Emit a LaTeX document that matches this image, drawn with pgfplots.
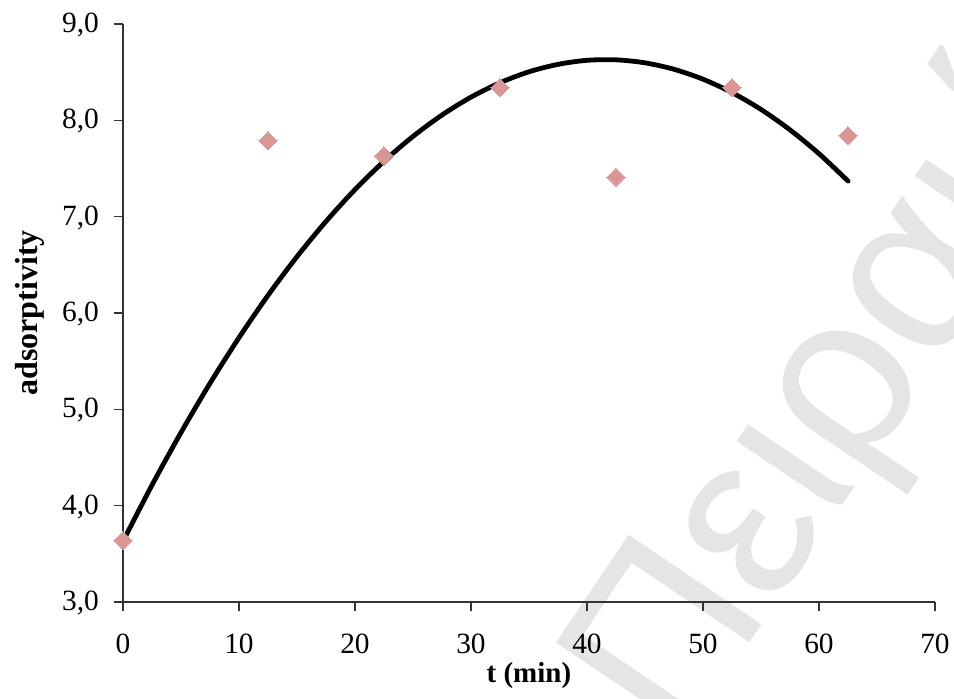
\documentclass[border=0pt]{standalone}
\usepackage{fontspec}
\setmainfont{Liberation Serif}
\newfontfamily\wmfont{Liberation Sans}
\usepackage{pgfplots}
\pgfplotsset{compat=1.18}
\definecolor{markcol}{RGB}{217,150,148}
\begin{document}
\begin{tikzpicture}
\useasboundingbox (0,0) rectangle (477pt,349.5pt);
\begin{scope}
\clip (0,0) rectangle (477pt,349.5pt);
\node[rotate=56, anchor=base west, inner sep=0pt, text=black!10, font=\wmfont\fontsize{116.5}{120}\selectfont] at (339pt,-25pt) {Πειραιά};
\end{scope}
\begin{axis}[
  at={(61.5pt,48.5pt)}, anchor=south west,
  scale only axis, width=406pt, height=289pt,
  xmin=0, xmax=70, ymin=3, ymax=9,
  axis lines*=left, axis line style={-, black!80, line width=0.6pt},
  xtick={0,10,...,70}, ytick={3,4,...,9},
  tick align=outside, major tick length=4.5pt,
  tick style={black!80, line width=0.6pt},
  minor tick num=0,
  /pgf/number format/assume math mode=true,
  y tick label style={/pgf/number format/.cd, fixed, fixed zerofill, precision=1, use comma, /tikz/.cd, xshift=-4pt, yshift=-0.5pt},
  x tick label style={yshift=-8pt},
  ticklabel style={font=\fontsize{14.7}{18}\selectfont},
  xlabel={\textbf{t (min)}}, ylabel={\textbf{adsorptivity}},
  xlabel style={font=\fontsize{14.5}{17}\selectfont, at={(rel axis cs:0.5,0)}, anchor=center, yshift=-36.75pt},
  ylabel style={font=\fontsize{16}{19}\selectfont, at={(rel axis cs:0,0.5)}, anchor=center, yshift=46.5pt},
  clip=false,
]
\addplot[only marks, mark=square*, mark size=3.2pt, mark options={rotate=45, fill=markcol, draw=markcol, line width=0pt}] coordinates {
(0,3.64) (12.5,7.79) (22.5,7.63) (32.5,8.34) (42.5,7.41) (52.5,8.34) (62.5,7.84)
};
\addplot[black, line width=2.4pt, line cap=round, line join=round, smooth, no marks] coordinates {
(0,3.630) (2.5,4.213) (5,4.759) (7.5,5.270) (10,5.744) (12.5,6.183) (15,6.585)
(17.5,6.951) (20,7.281) (22.5,7.575) (25,7.833) (27.5,8.055) (30,8.241)
(32.5,8.390) (35,8.504) (37.5,8.581) (40,8.623) (42.5,8.628) (45,8.597)
(47.5,8.530) (50,8.427) (52.5,8.288) (55,8.113) (57.5,7.901) (60,7.654) (62.5,7.370)
};
\end{axis}
\end{tikzpicture}
\end{document}
